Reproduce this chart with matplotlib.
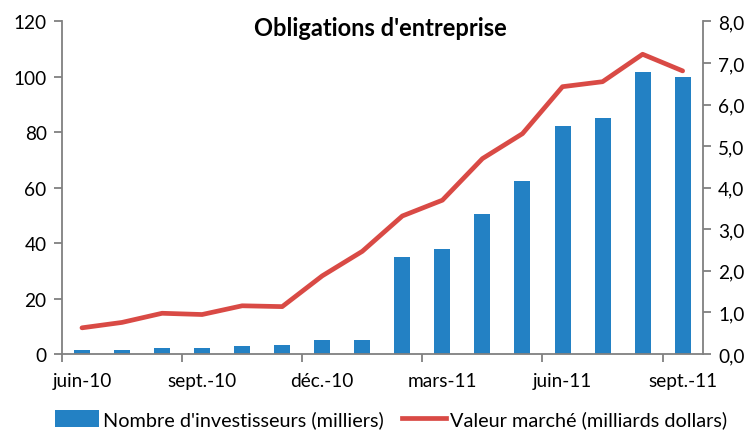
import matplotlib
matplotlib.use("Agg")
import matplotlib.pyplot as plt
from matplotlib.lines import Line2D
from matplotlib.patches import Patch

plt.rcParams['font.family'] = ['Lato', 'DejaVu Sans']

months = ["juin-10", "juil.-10", "août-10", "sept.-10", "oct.-10", "nov.-10",
          "déc.-10", "janv.-11", "févr.-11", "mars-11", "avr.-11", "mai-11",
          "juin-11", "juil.-11", "août-11", "sept.-11"]
investisseurs = [1.4, 1.4, 2.0, 2.0, 2.8, 3.2, 5.0, 5.0, 35.0, 38.0, 50.5, 62.6,
                 82.2, 85.2, 101.9, 100.1]
valeur = [0.63, 0.76, 0.98, 0.95, 1.16, 1.14, 1.88, 2.47, 3.32, 3.70, 4.70, 5.30,
          6.43, 6.55, 7.21, 6.81]
label_months = ["juin-10", "sept.-10", "déc.-10", "mars-11", "juin-11", "sept.-11"]
left_ticks = [0, 20, 40, 60, 80, 100, 120]
right_ticks = [0, 1, 2, 3, 4, 5, 6, 7, 8]

bar_color = "#2381C4"
line_color = "#D94A45"
spine_color = "#808080"
fs = 13.7

fig = plt.figure(figsize=(7.52, 4.31), dpi=100)
ax = fig.add_axes([0.0824, 0.1763, 0.852, 0.7717])
x = list(range(len(months)))
ax.bar(x, investisseurs, width=0.4, color=bar_color, zorder=2)
ax.set_xlim(-0.5, len(months) - 0.5)
ax.set_ylim(0, 120)
ax.set_yticks(left_ticks)
ax.set_yticklabels([str(t) for t in left_ticks], fontsize=fs)

ax2 = ax.twinx()
ax2.plot(x, valeur, color=line_color, lw=3.4, zorder=3, solid_capstyle='round')
ax2.set_ylim(0, 8)
ax2.set_yticks(right_ticks)
ax2.set_yticklabels([f"{t},0" for t in right_ticks], fontsize=fs)

# x axis: major ticks at group boundaries, labels at category centres
bounds = [i - 0.5 for i in range(0, len(months), 3)]
ax.set_xticks(bounds)
ax.set_xticklabels([""] * len(bounds))
lab_pos = [months.index(m) for m in label_months]
ax.set_xticks(lab_pos, minor=True)
ax.set_xticklabels(label_months, minor=True, fontsize=fs)
ax.tick_params(axis='x', which='minor', length=0, pad=13)
ax.tick_params(axis='x', which='major', length=6, color=spine_color, width=1.3, direction='out')
ax.tick_params(axis='y', length=6, color=spine_color, width=1.3, direction='out', pad=5)
ax2.tick_params(axis='y', length=6, color=spine_color, width=1.3, direction='out', pad=5)

for a in (ax, ax2):
    a.spines['top'].set_visible(False)
    for s in ('left', 'right', 'bottom'):
        a.spines[s].set_color(spine_color)
        a.spines[s].set_linewidth(1.3)
ax2.spines['left'].set_visible(False)
ax2.spines['bottom'].set_visible(False)
ax.spines['right'].set_visible(False)

fig.text(0.506, 0.935, "Obligations d'entreprise", ha='center', va='center',
         fontsize=17, fontweight='bold')

handles = [Patch(facecolor=bar_color, edgecolor='none'),
           Line2D([0], [0], color=line_color, lw=3.4)]
fig.legend(handles, ["Nombre d'investisseurs (milliers)", "Valeur marché (milliards dollars)"],
           loc='center', bbox_to_anchor=(0.52, 0.025), ncol=2, frameon=False,
           fontsize=14.3, handlelength=2.2, handleheight=0.95, handletextpad=0.2,
           columnspacing=0.95, borderpad=0)

fig.savefig("out.png", dpi=100)
